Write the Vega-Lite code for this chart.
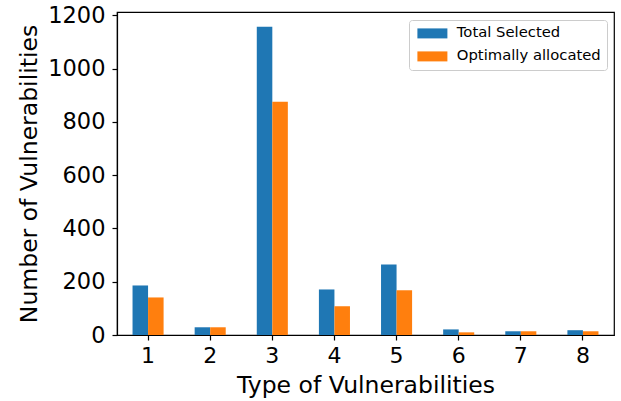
{
  "$schema": "https://vega.github.io/schema/vega-lite/v6.json",
  "width": 497,
  "height": 323,
  "autosize": {"type": "none"},
  "padding": {"left": 117, "top": 12, "right": 7, "bottom": 66},
  "background": "white",
  "data": {
    "values": [
      {"type": 1, "series": "Total Selected", "value": 186},
      {"type": 1, "series": "Optimally allocated", "value": 141},
      {"type": 2, "series": "Total Selected", "value": 29},
      {"type": 2, "series": "Optimally allocated", "value": 29},
      {"type": 3, "series": "Total Selected", "value": 1158},
      {"type": 3, "series": "Optimally allocated", "value": 876},
      {"type": 4, "series": "Total Selected", "value": 171},
      {"type": 4, "series": "Optimally allocated", "value": 108},
      {"type": 5, "series": "Total Selected", "value": 265},
      {"type": 5, "series": "Optimally allocated", "value": 168},
      {"type": 6, "series": "Total Selected", "value": 21},
      {"type": 6, "series": "Optimally allocated", "value": 10},
      {"type": 7, "series": "Total Selected", "value": 14},
      {"type": 7, "series": "Optimally allocated", "value": 14},
      {"type": 8, "series": "Total Selected", "value": 18},
      {"type": 8, "series": "Optimally allocated", "value": 14}
    ]
  },
  "mark": {"type": "bar"},
  "encoding": {
    "x": {
      "field": "type",
      "type": "ordinal",
      "scale": {"paddingInner": 0.5, "paddingOuter": 0.25},
      "axis": {
        "title": "Type of Vulnerabilities",
        "labelAngle": 0,
        "labelPadding": 5,
        "titleY": 57.6,
        "titleBaseline": "alphabetic"
      }
    },
    "xOffset": {
      "field": "series",
      "type": "nominal",
      "sort": ["Total Selected", "Optimally allocated"],
      "scale": {"paddingInner": 0, "paddingOuter": 0}
    },
    "y": {
      "field": "value",
      "type": "quantitative",
      "scale": {"domain": [0, 1213], "nice": false, "zero": true},
      "axis": {
        "title": "Number of Vulnerabilities",
        "values": [0, 200, 400, 600, 800, 1000, 1200],
        "format": "d",
        "labelPadding": 7,
        "labelFontSize": 22.5,
        "titleX": -81,
        "titleBaseline": "alphabetic"
      }
    },
    "color": {
      "field": "series",
      "type": "nominal",
      "scale": {
        "domain": ["Total Selected", "Optimally allocated"],
        "range": ["#1f77b4", "#ff7f0e"]
      },
      "legend": {
        "title": null,
        "orient": "none",
        "legendX": 292,
        "legendY": 8,
        "symbolType": "M-1,-1H5V1H-1Z",
        "symbolSize": 100,
        "symbolStrokeWidth": 0,
        "labelFontSize": 14.8,
        "labelFont": "DejaVu Sans",
        "labelColor": "black",
        "labelOffset": 27,
        "rowPadding": 7,
        "padding": 6,
        "fillColor": "rgba(255,255,255,0.8)",
        "strokeColor": "#cccccc",
        "cornerRadius": 3
      }
    }
  },
  "config": {
    "view": {"stroke": "black", "strokeWidth": 1.2},
    "font": "DejaVu Sans",
    "axis": {
      "grid": false,
      "domainColor": "black",
      "domainWidth": 1.2,
      "tickColor": "black",
      "tickWidth": 1.2,
      "tickSize": 5,
      "labelFont": "DejaVu Sans",
      "labelFontSize": 22,
      "labelColor": "black",
      "titleFont": "DejaVu Sans",
      "titleFontSize": 23.5,
      "titleFontWeight": "normal",
      "titleColor": "black"
    }
  }
}
